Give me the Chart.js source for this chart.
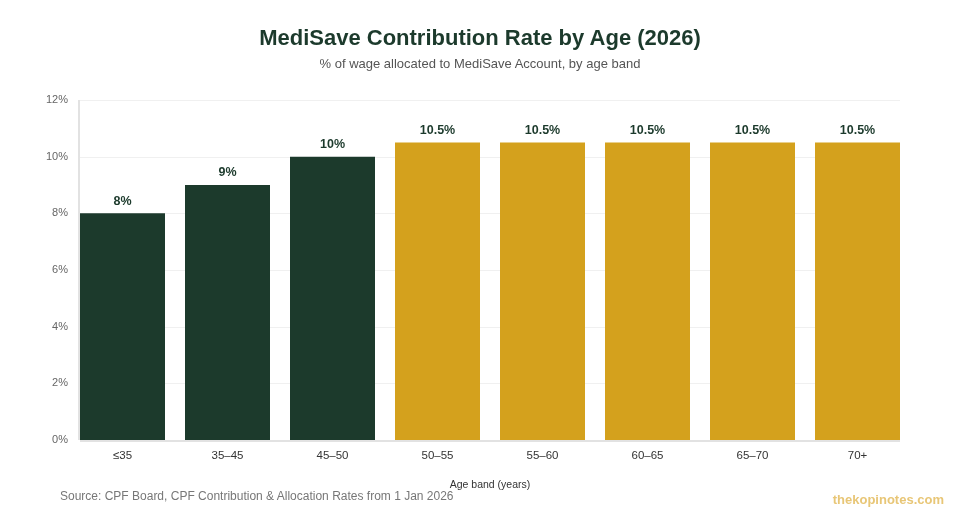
<!DOCTYPE html>
<html>
<head>
<meta charset="utf-8">
<script src="https://cdn.jsdelivr.net/npm/chart.js@4/dist/chart.umd.min.js"></script>
<style>
  html, body { margin:0; padding:0; background:#fff; }
  #wrap { position:relative; width:960px; height:520px; font-family:"Liberation Sans", Arial, Helvetica, sans-serif; }
  #chart { position:absolute; left:0; top:0; }
  .title { position:absolute; top:25px; left:0; width:960px; text-align:center; font-size:22px; font-weight:bold; color:#1c3a2c; }
  .sub { position:absolute; top:56px; left:0; width:960px; text-align:center; font-size:13px; color:#555; }
  .src { position:absolute; top:489px; left:60px; font-size:12px; color:#777; }
  .mark { position:absolute; top:492px; right:16px; font-size:13px; font-weight:bold; color:#e8c676; }
</style>
</head>
<body>
<div id="wrap">
  <canvas id="chart" width="960" height="520"></canvas>
  <div class="title">MediSave Contribution Rate by Age (2026)</div>
  <div class="sub">% of wage allocated to MediSave Account, by age band</div>
  <div class="src">Source: CPF Board, CPF Contribution &amp; Allocation Rates from 1 Jan 2026</div>
  <div class="mark">thekopinotes.com</div>
</div>
<script>
// ===== DATA =====
const AGE_BANDS = ["≤35", "35–45", "45–50", "50–55", "55–60", "60–65", "65–70", "70+"];
const RATES = [8, 9, 10, 10.5, 10.5, 10.5, 10.5, 10.5];
const Y_TICKS = [0, 2, 4, 6, 8, 10, 12];

const GREEN = "#1c3a2c";
const GOLD = "#d4a11d";
const barColors = RATES.map((_, i) => i < 3 ? GREEN : GOLD);

// grid + axis lines spanning only the bars (no outer gaps, as in the original)
const framePlugin = {
  id: "frame",
  beforeDatasetsDraw(chart){
    const meta = chart.getDatasetMeta(0);
    const first = meta.data[0], last = meta.data[meta.data.length-1];
    const x0 = first.x - first.width/2, x1 = last.x + last.width/2;
    const y = chart.scales.y, ctx = chart.ctx;
    ctx.save();
    ctx.lineWidth = 1;
    ctx.strokeStyle = "#f0f0f0";
    Y_TICKS.forEach(v => {
      if (v === 0) return;
      const py = Math.round(y.getPixelForValue(v)) + 0.5;
      ctx.beginPath(); ctx.moveTo(x0, py); ctx.lineTo(x1, py); ctx.stroke();
    });
    ctx.strokeStyle = "#e2e2e2";
    ctx.lineWidth = 2;
    ctx.beginPath();
    ctx.moveTo(x0 - 1, y.getPixelForValue(12));
    ctx.lineTo(x0 - 1, y.getPixelForValue(0));
    ctx.stroke();
    ctx.beginPath();
    ctx.moveTo(x0, y.getPixelForValue(0) + 1);
    ctx.lineTo(x1, y.getPixelForValue(0) + 1);
    ctx.stroke();
    ctx.restore();
  },
  afterDatasetsDraw(chart){
    const meta = chart.getDatasetMeta(0), ctx = chart.ctx;
    ctx.save();
    ctx.font = "bold 12.5px 'Liberation Sans', Arial, sans-serif";
    ctx.fillStyle = GREEN;
    ctx.textAlign = "center";
    ctx.textBaseline = "bottom";
    meta.data.forEach((bar, i) => {
      ctx.fillText(RATES[i] + "%", bar.x, bar.y - 6);
    });
    ctx.restore();
  }
};

new Chart(document.getElementById("chart").getContext("2d"), {
  type: "bar",
  data: {
    labels: AGE_BANDS,
    datasets: [{ data: RATES, backgroundColor: barColors, borderWidth: 0,
                 barPercentage: 85/105, categoryPercentage: 1 }]
  },
  options: {
    responsive: false, animation: false,
    layout: { padding: { left: 30, right: 50, top: 100, bottom: 25 } },
    plugins: { legend: { display: false }, tooltip: { enabled: false } },
    scales: {
      x: {
        grid: { display: false, drawTicks: false }, border: { display: false },
        ticks: { color: "#333", font: { size: 11.5, family: "'Liberation Sans', Arial" }, padding: 9 },
        title: { display: true, text: "Age band (years)", color: "#333", font: { size: 10.5, family: "'Liberation Sans', Arial" }, padding: { top: 10 } },
        afterFit(s){ s.height = 55; }
      },
      y: {
        min: 0, max: 12,
        grid: { display: false, drawTicks: false }, border: { display: false },
        afterBuildTicks(s){ s.ticks = Y_TICKS.map(v => ({ value: v })); },
        ticks: { color: "#666", font: { size: 11, family: "'Liberation Sans', Arial" }, padding: 2,
                 callback: v => v + "%" },
        afterFit(s){ s.width = 40; }
      }
    }
  },
  plugins: [framePlugin]
});
</script>
</body>
</html>
